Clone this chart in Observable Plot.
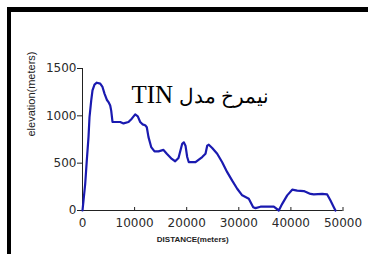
<!DOCTYPE html>
<html><head><meta charset="utf-8">
<script src="https://cdn.jsdelivr.net/npm/d3@7"></script>
<script src="https://cdn.jsdelivr.net/npm/@observablehq/plot@0.6"></script>
<style>
html,body{margin:0;padding:0;background:#fff;}
#wrap{position:relative;width:368px;height:254px;overflow:hidden;}
#wrap svg{position:absolute;left:0;top:0;}
#frame{position:absolute;left:7px;top:7px;right:-10px;bottom:-10px;border-top:5px solid #000;border-left:4px solid #000;pointer-events:none;}
</style></head><body><div id="wrap"><div id="frame"></div></div>
<script>
const distance = [0,192,518,825,1152,1344,1670,1919,2303,2745,3397,3839,4223,4664,4990,5317,5509,5758,7236,7869,8829,9463,10115,10614,11075,11516,12035,12342,12668,13186,13820,14587,15547,16180,17140,17793,18426,19136,19443,19770,20096,20403,21689,22975,23608,23935,24242,24894,25854,26814,27774,28733,29693,30653,31919,32764,33205,34165,36084,36718,37678,38330,39290,40250,41210,42476,43762,44395,46008,46967,47601,48234,48560];
const elevation = [0,105,280,530,775,985,1160,1270,1330,1350,1340,1305,1235,1170,1145,1110,1055,935,935,920,935,970,1015,995,935,910,900,880,775,670,625,625,640,600,545,520,555,705,720,685,565,510,510,565,600,685,695,660,600,510,405,315,230,160,125,35,25,40,40,40,0,70,160,220,210,205,175,170,175,170,105,35,0];
const xTicks = [0,10000,20000,30000,40000,50000];
const yTicks = [0,500,1000,1500];
const titleFa = "نیمرخ مدل";
const titleEn = "TIN";
const title = titleFa + " " + titleEn;
const xLabel = "DISTANCE(meters)";
const yLabel = "elevation(meters)";

const data = distance.map((d, i) => ({d, e: elevation[i]}));

const chart = Plot.plot({
  width: 368, height: 254,
  marginLeft: 82, marginRight: 25.5, marginTop: 68, marginBottom: 44,
  style: {fontFamily: "DejaVu Sans", fontSize: "12px", color: "#222", background: "transparent"},
  x: {domain: [0, 50000], label: null},
  y: {domain: [0, 1500], label: null},
  marks: [
    Plot.axisX(xTicks, {tickSize: 0, tickPadding: 8, tickFormat: "d", fill: "#2a2a2a", label: null}),
    Plot.axisX(xTicks, {anchor: "top", tickSize: 4, text: null, dy: 142, stroke: "#222", label: null}),
    Plot.axisY(yTicks, {tickSize: 5, tickPadding: 1, tickFormat: "d", fill: "#2a2a2a", stroke: "#222", label: null}),
    Plot.ruleY([0], {stroke: "#222"}),
    Plot.ruleX([0], {stroke: "#222"}),
    Plot.line(data, {x: "d", y: "e", stroke: "#1a1ab0", strokeWidth: 2.2}),
    Plot.text([yLabel], {text: d => d, frameAnchor: "left", rotate: -90, dx: -51, dy: -3, fontFamily: "Liberation Sans", fontSize: 11, fill: "#222"}),
    Plot.text([xLabel], {text: d => d, frameAnchor: "bottom", dx: -20, dy: 31.5, fontFamily: "Liberation Sans", fontSize: 8, fontWeight: "bold", fill: "#222"}),
    Plot.text([title], {text: d => d, frameAnchor: "top-left", dx: 49, dy: 34, lineAnchor: "bottom", textAnchor: "end", fontFamily: "Liberation Serif, DejaVu Serif, serif", fontSize: 25, fill: "#000"})
  ]
});
d3.select(chart).selectAll("text").filter(function() { return this.textContent === title; })
  .attr("direction", "rtl").style("unicode-bidi", "embed")
  .each(function() {
    const t = d3.select(this);
    t.text(null);
    t.append("tspan").attr("font-size", 20).text(titleFa);
    t.append("tspan").text(" " + titleEn);
  });
const wrap = document.getElementById("wrap");
wrap.insertBefore(chart, wrap.firstChild);
</script>
</body></html>
